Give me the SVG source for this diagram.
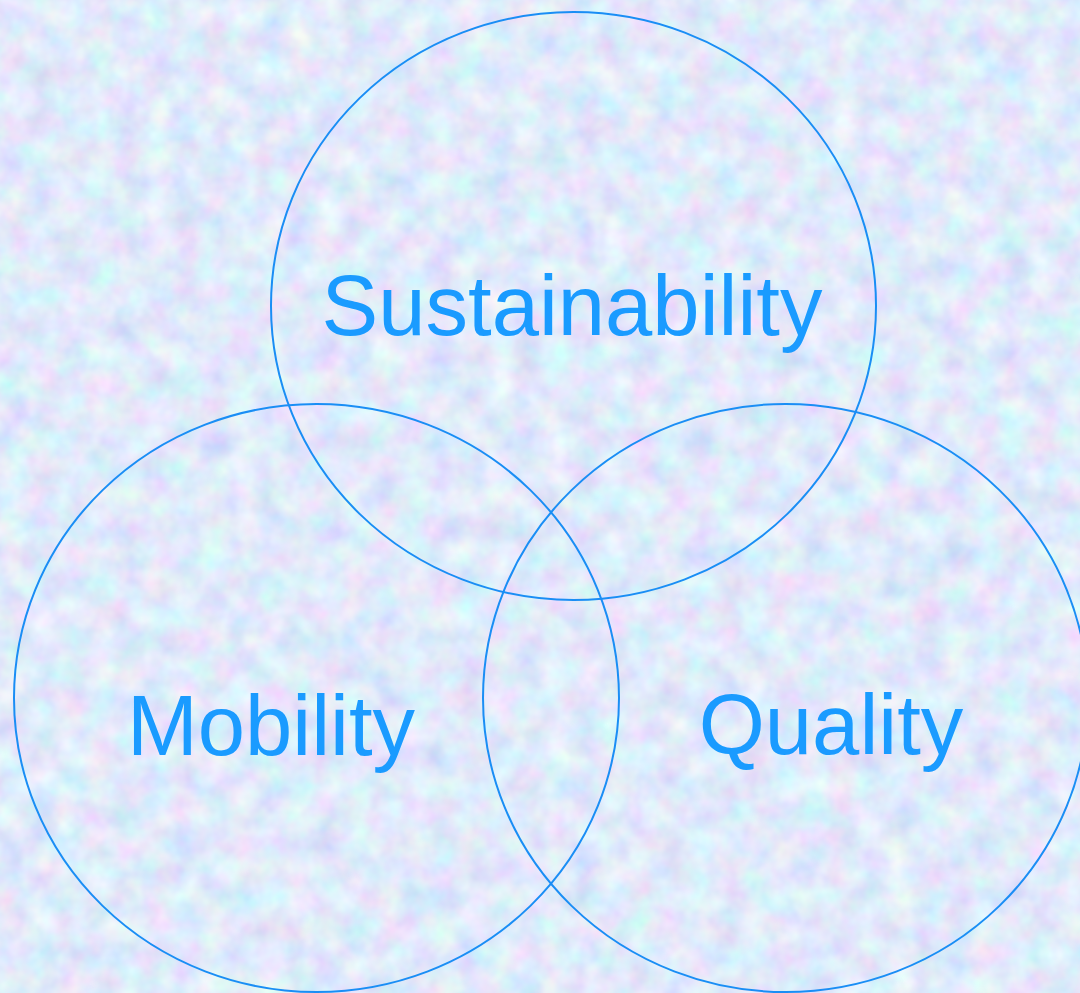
<svg xmlns="http://www.w3.org/2000/svg" width="1080" height="993" viewBox="0 0 1080 993">
<defs>
<filter id="tex" x="0" y="0" width="100%" height="100%" filterUnits="userSpaceOnUse">
<feTurbulence type="fractalNoise" baseFrequency="0.035" numOctaves="3" seed="7" result="n"/>
<feColorMatrix in="n" type="matrix" values="0.5 0 0 0 0.5  0 0.45 0 0 0.6  0 0 0.2 0 0.86  0 0 0 0 1"/>
</filter>
<style>
.c{fill:none;stroke:#1a8ef5;stroke-width:2}
.t{font-family:"Liberation Sans",Arial,sans-serif;font-size:85px;fill:#1a9bff;text-anchor:middle}
</style>
</defs>
<rect width="1080" height="993" fill="#c8d8f6"/>
<rect width="1080" height="993" filter="url(#tex)"/>
<g id="sustainability">
<ellipse class="c" cx="573.5" cy="306" rx="302.5" ry="294"/>
<text class="t" x="572" y="335">Sustainability</text>
</g>
<g id="mobility">
<ellipse class="c" cx="316.5" cy="698" rx="302.5" ry="294"/>
<text class="t" x="271" y="755">Mobility</text>
</g>
<g id="quality">
<ellipse class="c" cx="785.5" cy="698" rx="302.5" ry="294"/>
<text class="t" x="831" y="754">Quality</text>
</g>
<g id="connectors"/>
</svg>
